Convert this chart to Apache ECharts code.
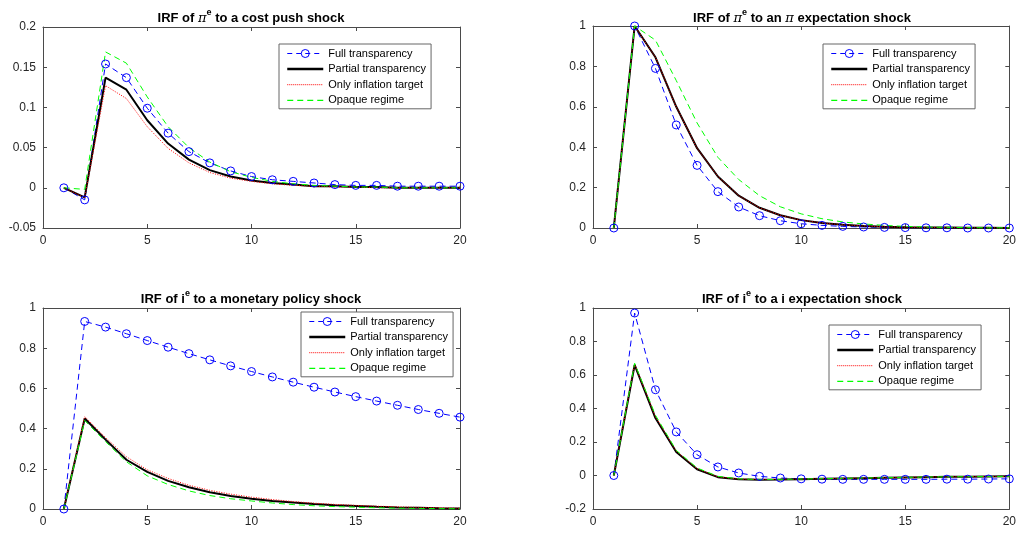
<!DOCTYPE html>
<html>
<head>
<meta charset="utf-8">
<script src="https://cdn.jsdelivr.net/npm/echarts@6/dist/echarts.min.js"></script>
<style>
html, body { margin: 0; padding: 0; background: #fff; }
#chart { width: 1019px; height: 533px; }
</style>
</head>
<body>
<div id="chart"></div>
<script>
// horizon (periods)
const periods = [1, 2, 3, 4, 5, 6, 7, 8, 9, 10, 11, 12, 13, 14, 15, 16, 17, 18, 19, 20]
const regimes = ['Full transparency', 'Partial transparency', 'Only inflation target', 'Opaque regime']

// IRF of pi^e to a cost push shock
const costFull = [0, -0.015, 0.154, 0.137, 0.099, 0.068, 0.045, 0.031, 0.021, 0.014, 0.010, 0.008, 0.006, 0.004, 0.003, 0.003, 0.002, 0.002, 0.002, 0.002]
const costPartial = [0, -0.012, 0.137, 0.122, 0.084, 0.055, 0.035, 0.022, 0.014, 0.009, 0.006, 0.004, 0.002, 0.002, 0.001, 0.001, 0, 0, 0, 0]
const costInfl = [0, -0.012, 0.127, 0.111, 0.076, 0.049, 0.031, 0.019, 0.012, 0.008, 0.005, 0.003, 0.002, 0.001, 0.001, 0, 0, 0, 0, 0]
const costOpaque = [0, -0.002, 0.169, 0.155, 0.113, 0.076, 0.050, 0.032, 0.020, 0.013, 0.008, 0.005, 0.003, 0.002, 0.001, 0.001, 0, 0, 0, 0]

// IRF of pi^e to a pi expectation shock
const piFull = [0, 1, 0.79, 0.51, 0.31, 0.18, 0.104, 0.061, 0.036, 0.021, 0.013, 0.008, 0.005, 0.003, 0.002, 0.001, 0.001, 0, 0, 0]
const piPartial = [0, 1, 0.845, 0.60, 0.395, 0.255, 0.16, 0.10, 0.063, 0.039, 0.025, 0.016, 0.010, 0.006, 0.004, 0.003, 0.002, 0.001, 0.001, 0]
const piInfl = [0, 1, 0.845, 0.60, 0.395, 0.255, 0.16, 0.10, 0.063, 0.039, 0.025, 0.016, 0.010, 0.006, 0.004, 0.003, 0.002, 0.001, 0.001, 0]
const piOpaque = [0, 1, 0.93, 0.73, 0.52, 0.35, 0.24, 0.16, 0.105, 0.07, 0.046, 0.030, 0.020, 0.013, 0.008, 0.005, 0.003, 0.002, 0.001, 0.001]

// IRF of i^e to a monetary policy shock
const monFull = [0, 0.933, 0.905, 0.872, 0.838, 0.805, 0.773, 0.742, 0.712, 0.684, 0.657, 0.631, 0.606, 0.582, 0.559, 0.537, 0.516, 0.495, 0.476, 0.457]
const monPartial = [0, 0.45, 0.345, 0.245, 0.185, 0.14, 0.108, 0.083, 0.065, 0.051, 0.040, 0.032, 0.025, 0.019, 0.015, 0.011, 0.008, 0.006, 0.004, 0.003]
const monInfl = [0, 0.46, 0.355, 0.26, 0.195, 0.152, 0.118, 0.093, 0.074, 0.059, 0.047, 0.037, 0.029, 0.023, 0.018, 0.014, 0.011, 0.008, 0.006, 0.004]
const monOpaque = [0, 0.44, 0.335, 0.235, 0.165, 0.122, 0.090, 0.067, 0.051, 0.040, 0.030, 0.022, 0.016, 0.012, 0.009, 0.006, 0.004, 0.003, 0.002, 0.001]

// IRF of i^e to an i expectation shock
const iFull = [0, 0.97, 0.512, 0.26, 0.124, 0.051, 0.015, -0.005, -0.015, -0.02, -0.022, -0.023, -0.023, -0.023, -0.023, -0.023, -0.022, -0.022, -0.021, -0.02]
const iPartial = [0, 0.66, 0.343, 0.14, 0.037, -0.01, -0.022, -0.025, -0.024, -0.022, -0.02, -0.018, -0.016, -0.014, -0.012, -0.01, -0.008, -0.007, -0.006, -0.005]
const iInfl = [0, 0.665, 0.35, 0.145, 0.04, -0.008, -0.021, -0.024, -0.023, -0.021, -0.019, -0.017, -0.015, -0.013, -0.011, -0.009, -0.008, -0.007, -0.006, -0.005]
const iOpaque = [0, 0.67, 0.36, 0.15, 0.045, -0.005, -0.02, -0.024, -0.023, -0.021, -0.019, -0.017, -0.015, -0.013, -0.011, -0.009, -0.008, -0.007, -0.006, -0.005]

// y axis ranges
const yMins = [-0.05, 0, 0, -0.2]
const yMaxs = [0.2, 1, 1, 1]
const yIntervals = [0.05, 0.2, 0.2, 0.2]

const panels = [
    [costFull, costPartial, costInfl, costOpaque],
    [piFull, piPartial, piInfl, piOpaque],
    [monFull, monPartial, monInfl, monOpaque],
    [iFull, iPartial, iInfl, iOpaque],
]

const grids = [
    { left: 43, top: 27, width: 417, height: 201 },
    { left: 593, top: 26, width: 418, height: 202 },
    { left: 43, top: 308, width: 417, height: 201 },
    { left: 593, top: 308, width: 418, height: 201 },
]
const legendPos = [
    { left: 279, top: 44 },
    { left: 823, top: 44 },
    { left: 301, top: 312 },
    { left: 829, top: 325 },
]
const titles = [
    { x: 251, y: 8, text: '{b|IRF of }{p|π}{s|e}{b| to a cost push shock}' },
    { x: 802, y: 8, text: '{b|IRF of }{p|π}{s|e}{b| to an }{p|π}{b| expectation shock}' },
    { x: 251, y: 289, text: '{b|IRF of i}{s|e}{b| to a monetary policy shock}' },
    { x: 802, y: 289, text: '{b|IRF of i}{s|e}{b| to a i expectation shock}' },
]

const axisColor = '#4a4a4a'
const font = 'Liberation Sans'

const pairs = (ys) => periods.map((p, i) => [p, ys[i]])

const xAxis = []
const yAxis = []
const series = []
grids.forEach((g, k) => {
    ;['bottom', 'top'].forEach((pos, j) => {
        xAxis.push({
            gridIndex: k, type: 'value', position: pos, min: 0, max: 20, interval: 5,
            axisLine: { show: true, onZero: false, lineStyle: { color: axisColor } },
            axisTick: { show: true, inside: true, length: 4, lineStyle: { color: axisColor } },
            axisLabel: { show: j === 0, color: '#262626', fontSize: 12, fontFamily: font, margin: 7 },
            splitLine: { show: false },
        })
    })
    ;['left', 'right'].forEach((pos, j) => {
        yAxis.push({
            gridIndex: k, type: 'value', position: pos, min: yMins[k], max: yMaxs[k], interval: yIntervals[k],
            axisLine: { show: true, onZero: false, lineStyle: { color: axisColor } },
            axisTick: { show: true, inside: true, length: 4, lineStyle: { color: axisColor } },
            axisLabel: { show: j === 0, color: '#262626', fontSize: 12, fontFamily: font, margin: 7 },
            splitLine: { show: false },
        })
    })
    const d = panels[k]
    series.push({
        name: regimes[0], type: 'line', xAxisIndex: 2 * k, yAxisIndex: 2 * k, data: pairs(d[0]),
        symbol: 'circle', symbolSize: 8, showAllSymbol: true, clip: false,
        itemStyle: { color: 'rgba(0,0,0,0)', borderColor: '#0000ff', borderWidth: 1 },
        lineStyle: { color: '#0000ff', width: 1, type: [6, 4] },
    })
    series.push({
        name: regimes[1], type: 'line', xAxisIndex: 2 * k, yAxisIndex: 2 * k, data: pairs(d[1]),
        symbol: 'none', clip: false, itemStyle: { color: '#000000' },
        lineStyle: { color: '#000000', width: 2 },
    })
    series.push({
        name: regimes[2], type: 'line', xAxisIndex: 2 * k, yAxisIndex: 2 * k, data: pairs(d[2]),
        symbol: 'none', clip: false, itemStyle: { color: '#ff0000' },
        lineStyle: { color: '#ff0000', width: 1, type: [1, 1.5] },
    })
    series.push({
        name: regimes[3], type: 'line', xAxisIndex: 2 * k, yAxisIndex: 2 * k, data: pairs(d[3]),
        symbol: 'none', clip: false, itemStyle: { color: '#00ff00' },
        lineStyle: { color: '#00ff00', width: 1, type: [6, 4] },
    })
})

// legend entries: MATLAB-like line samples
const legendData = [
    { name: regimes[0], itemStyle: { color: 'rgba(0,0,0,0)', borderColor: '#0000ff', borderWidth: 1 }, lineStyle: { color: '#0000ff', width: 1.2, type: [5, 4] } },
    { name: regimes[1], itemStyle: { opacity: 0 }, lineStyle: { color: '#000000', width: 2.5 } },
    { name: regimes[2], itemStyle: { opacity: 0 }, lineStyle: { color: '#ff0000', width: 1, type: [1, 1] } },
    { name: regimes[3], itemStyle: { opacity: 0 }, lineStyle: { color: '#00ff00', width: 1.2, type: [6, 4] } },
]

const legend = legendPos.map(p => ({
    left: p.left, top: p.top, orient: 'vertical', data: legendData,
    itemWidth: 36, itemHeight: 10, itemGap: 4.6, padding: [4, 5, 3, 7],
    backgroundColor: '#fff', borderColor: '#666', borderWidth: 1,
    textStyle: { color: '#000', fontSize: 11, fontFamily: font },
    selectedMode: false,
}))

const richTitle = {
    b: { fontSize: 13, fontWeight: 'bold', fontFamily: font, fill: '#000', lineHeight: 17, verticalAlign: 'bottom' },
    p: { fontSize: 13, fontFamily: 'DejaVu Serif', fontStyle: 'italic', fill: '#000', lineHeight: 17, verticalAlign: 'bottom' },
    s: { fontSize: 9, fontWeight: 'bold', fontFamily: font, fill: '#000', lineHeight: 10, verticalAlign: 'top' },
}

const option = {
    animation: false,
    backgroundColor: '#fff',
    grid: grids,
    xAxis: xAxis,
    yAxis: yAxis,
    legend: legend,
    series: series,
    graphic: titles.map(t => ({
        type: 'text', x: t.x, y: t.y,
        style: { text: t.text, rich: richTitle, align: 'center', verticalAlign: 'top' },
    })),
}

const chart = echarts.init(document.getElementById('chart'))
chart.setOption(option)
</script>
</body>
</html>
